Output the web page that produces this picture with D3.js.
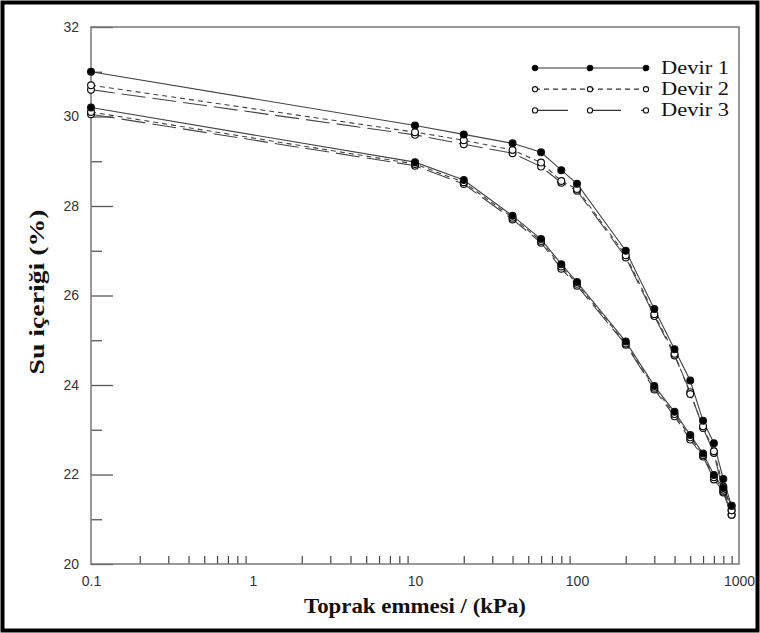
<!DOCTYPE html>
<html>
<head>
<meta charset="utf-8">
<script src="https://d3js.org/d3.v7.min.js"></script>
<style>
  body { margin: 0; background: #fff; }
</style>
</head>
<body>
<div id="graph"></div>
<script>
    // suction values (kPa) and water content (%)
    var suction = [0.1, 10, 20, 40, 60, 80, 100, 200, 300, 400, 500, 600, 700, 800, 900];

    var devir1Upper = [31.0, 29.8, 29.6, 29.4, 29.2, 28.8, 28.5, 27.0, 25.7, 24.8, 24.1, 23.2, 22.7, 21.9, 21.3];
    var devir2Upper = [30.7, 29.65, 29.47, 29.25, 28.97, 28.56, 28.38, 26.9, 25.58, 24.7, 23.8, 23.08, 22.52, 21.73, 21.2];
    var devir3Upper = [30.6, 29.59, 29.38, 29.18, 28.88, 28.52, 28.34, 26.85, 25.54, 24.66, 23.84, 23.04, 22.48, 21.6, 21.1];

    var devir1Lower = [30.2, 28.98, 28.58, 27.78, 27.26, 26.7, 26.3, 24.97, 23.98, 23.4, 22.88, 22.47, 21.99, 21.7, 21.3];
    var devir2Lower = [30.1, 28.94, 28.53, 27.74, 27.22, 26.65, 26.26, 24.93, 23.94, 23.35, 22.83, 22.43, 21.94, 21.66, 21.2];
    var devir3Lower = [30.05, 28.9, 28.49, 27.7, 27.18, 26.6, 26.22, 24.9, 23.9, 23.3, 22.78, 22.4, 21.89, 21.62, 21.1];

    var seriesNames = ["Devir 1", "Devir 2", "Devir 3"];
    var xMajorTicks = [0.1, 1, 10, 100, 1000];
    var xTickLabels = ["0.1", "1", "10", "100", "1000"];
    var yMajorTicks = [20, 22, 24, 26, 28, 30, 32];
    var yMinorTicks = [21, 23, 25, 27, 29, 31];

    var serif = "'Liberation Serif', 'Times New Roman', 'DejaVu Serif', serif";
    var sans = "'Liberation Sans', Arial, sans-serif";

    var W = 760, H = 633;
    var margin = { top: 27, right: 21, bottom: 69, left: 91 },
        width = W - margin.left - margin.right,
        height = H - margin.top - margin.bottom;

    var root = d3.select("#graph")
        .append("svg")
        .attr("width", W)
        .attr("height", H);

    // outer black frame
    root.append("rect")
        .attr("x", 2.5).attr("y", 2.5)
        .attr("width", W - 5).attr("height", H - 5)
        .attr("fill", "none")
        .attr("stroke", "#000")
        .attr("stroke-width", 4);

    var svg = root.append("g")
        .attr("transform", "translate(" + margin.left + "," + margin.top + ")");

    var x = d3.scaleLog()
        .domain([0.1, 1000])
        .range([0, width]);

    var y = d3.scaleLinear()
        .domain([20, 32])
        .range([height, 0]);

    var xMinor = [];
    [0.1, 1, 10, 100].forEach(function (d) {
        for (var k = 2; k <= 9; k++) xMinor.push(d * k);
    });

    // x minor ticks (inward)
    svg.append("g")
        .attr("transform", "translate(0," + height + ")")
        .call(d3.axisBottom(x).tickValues(xMinor).tickSize(-8).tickFormat(""))
        .call(function (g) { g.select(".domain").remove(); })
        .selectAll("line").attr("stroke", "#444").attr("stroke-width", 1.2);

    // x labels
    svg.append("g")
        .attr("transform", "translate(0," + height + ")")
        .call(d3.axisBottom(x).tickValues(xMajorTicks).tickSize(0).tickPadding(12)
            .tickFormat(function (d, i) { return xTickLabels[i]; }))
        .call(function (g) { g.select(".domain").remove(); })
        .selectAll("text")
        .style("font-family", sans)
        .style("font-size", "14px")
        .attr("fill", "#333");

    // y major ticks + labels
    svg.append("g")
        .call(d3.axisLeft(y).tickValues(yMajorTicks).tickSize(-22).tickPadding(12))
        .call(function (g) { g.select(".domain").remove(); })
        .call(function (g) {
            g.selectAll("line").attr("stroke", "#555").attr("stroke-width", 1.3);
            g.selectAll("text")
                .style("font-family", sans)
                .style("font-size", "14px")
                .attr("fill", "#333");
        });

    // y minor ticks
    svg.append("g")
        .call(d3.axisLeft(y).tickValues(yMinorTicks).tickSize(-11).tickFormat(""))
        .call(function (g) { g.select(".domain").remove(); })
        .selectAll("line").attr("stroke", "#555").attr("stroke-width", 1.3);

    // plot frame
    svg.append("rect")
        .attr("width", width)
        .attr("height", height)
        .attr("fill", "none")
        .attr("stroke", "#777")
        .attr("stroke-width", 1.5);

    var styles = [
        { dash: null, fill: "#000" },
        { dash: "5,4", fill: "#fff" },
        { dash: "24,7", fill: "#fff" }
    ];

    var curves = [
        { s: 0, v: devir1Upper }, { s: 0, v: devir1Lower },
        { s: 1, v: devir2Upper }, { s: 1, v: devir2Lower },
        { s: 2, v: devir3Upper }, { s: 2, v: devir3Lower }
    ];

    var line = d3.line()
        .x(function (d, i) { return x(suction[i]); })
        .y(function (d) { return y(d); });

    // draw series 3 first so Devir 1 sits on top
    var order = [4, 5, 2, 3, 0, 1];
    order.forEach(function (ci) {
        var c = curves[ci];
        var st = styles[c.s];
        svg.append("path")
            .datum(c.v)
            .attr("fill", "none")
            .attr("stroke", "#444")
            .attr("stroke-width", 1.1)
            .attr("stroke-dasharray", st.dash)
            .attr("d", line);
    });
    order.forEach(function (ci) {
        var c = curves[ci];
        var st = styles[c.s];
        svg.append("g")
            .selectAll("circle")
            .data(c.v)
            .enter()
            .append("circle")
            .attr("cx", function (d, i) { return x(suction[i]); })
            .attr("cy", function (d) { return y(d); })
            .attr("r", 3.4)
            .attr("fill", st.fill)
            .attr("stroke", "#111")
            .attr("stroke-width", 1.2);
    });

    // legend
    var legend = root.append("g").attr("transform", "translate(535,68)");
    var legendDash = [null, "5,4", "33,20"];
    seriesNames.forEach(function (name, i) {
        var g = legend.append("g").attr("transform", "translate(0," + (i * 21.2) + ")");
        g.append("line")
            .attr("x1", 0).attr("x2", 111)
            .attr("stroke", "#333")
            .attr("stroke-width", 1.2)
            .attr("stroke-dasharray", legendDash[i]);
        [0, 55, 111].forEach(function (px) {
            g.append("circle")
                .attr("cx", px).attr("cy", 0)
                .attr("r", i === 0 ? 2.8 : 2.6)
                .attr("fill", styles[i].fill)
                .attr("stroke", "#111")
                .attr("stroke-width", 1.1);
        });
        g.append("text")
            .attr("x", 126)
            .attr("y", 6)
            .attr("textLength", 68)
            .attr("lengthAdjust", "spacingAndGlyphs")
            .style("font-family", serif)
            .style("font-size", "18px")
            .attr("fill", "#111")
            .text(name);
    });

    // axis titles
    root.append("text")
        .attr("x", margin.left + width / 2)
        .attr("y", 613)
        .attr("text-anchor", "middle")
        .attr("textLength", 222)
        .attr("lengthAdjust", "spacingAndGlyphs")
        .style("font-family", serif)
        .style("font-size", "21px")
        .style("font-weight", "bold")
        .attr("fill", "#111")
        .text("Toprak emmesi / (kPa)");

    root.append("text")
        .attr("transform", "translate(44,292) rotate(-90)")
        .attr("text-anchor", "middle")
        .attr("textLength", 165)
        .attr("lengthAdjust", "spacingAndGlyphs")
        .style("font-family", serif)
        .style("font-size", "20px")
        .style("font-weight", "bold")
        .attr("fill", "#111")
        .text("Su içeriği (%)");
</script>
</body>
</html>
